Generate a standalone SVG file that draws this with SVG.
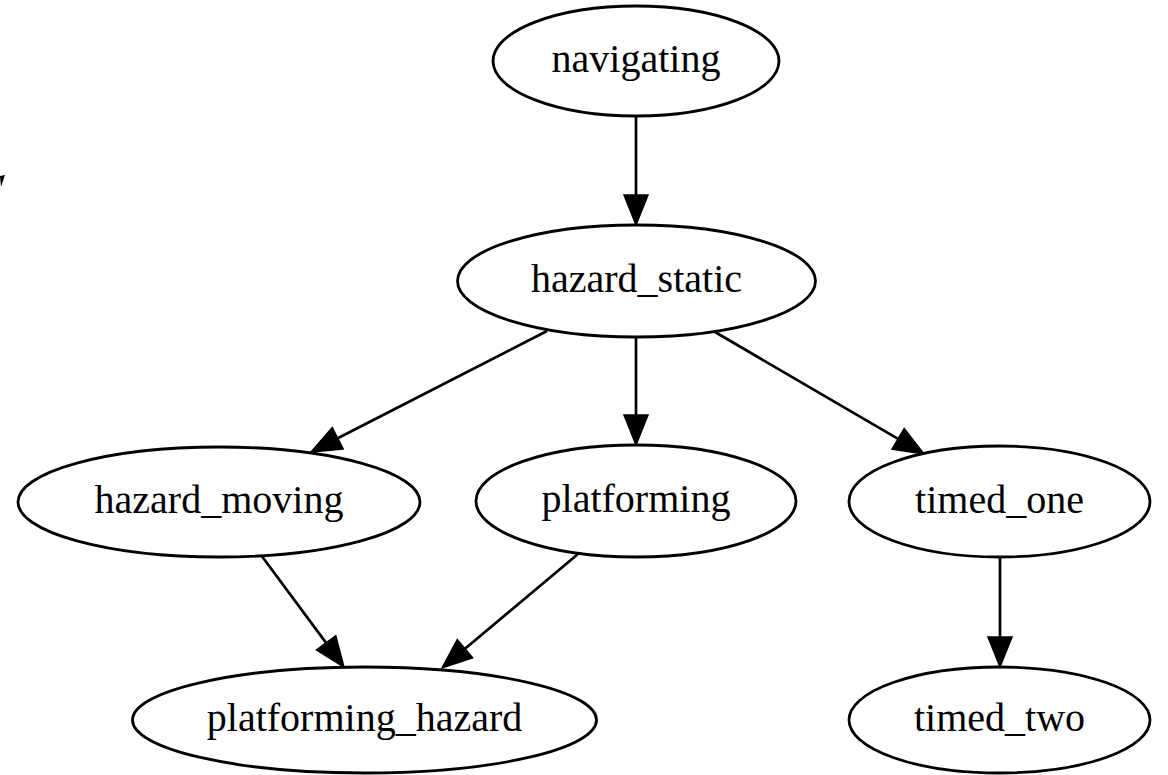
<svg xmlns="http://www.w3.org/2000/svg" width="1168" height="775" viewBox="0 0 1168 775">
<style>
.node ellipse{fill:#fff;stroke:#000;stroke-width:2.8}
.node text{font-family:"Liberation Serif","Times New Roman",serif;font-size:40px;fill:#000;text-anchor:middle}
.edge{fill:none;stroke:#000;stroke-width:2.7}
</style>
<defs>
<marker id="arr" markerUnits="userSpaceOnUse" viewBox="0 0 30 24" refX="0" refY="12" markerWidth="30" markerHeight="24" orient="auto" overflow="visible">
<path d="M0,0 L30,12 L0,24 Z" fill="#000" stroke="#000" stroke-width="1.5" stroke-linejoin="miter"/>
</marker>
</defs>
<rect width="1168" height="775" fill="#fff"/>
<polygon points="0,176 5,175 1,187" fill="#000"/>
<g id="connectors">
<line class="edge" x1="636" y1="117" x2="636" y2="195" marker-end="url(#arr)"/>
<line class="edge" x1="547" y1="331" x2="337.7" y2="438.3" marker-end="url(#arr)"/>
<line class="edge" x1="636" y1="337" x2="636" y2="415" marker-end="url(#arr)"/>
<line class="edge" x1="715" y1="332" x2="898.1" y2="438.9" marker-end="url(#arr)"/>
<line class="edge" x1="261" y1="555" x2="326.1" y2="642.9" marker-end="url(#arr)"/>
<line class="edge" x1="578" y1="554" x2="465" y2="648.7" marker-end="url(#arr)"/>
<line class="edge" x1="1000" y1="557" x2="1000" y2="637" marker-end="url(#arr)"/>
</g>
<g id="navigating" class="node"><ellipse cx="636" cy="61" rx="143" ry="55"/><text x="636" y="72">navigating</text></g>
<g id="hazard_static" class="node"><ellipse cx="636.5" cy="281" rx="179" ry="56"/><text x="636.5" y="292">hazard_static</text></g>
<g id="hazard_moving" class="node"><ellipse cx="219" cy="502" rx="201" ry="55"/><text x="219" y="513">hazard_moving</text></g>
<g id="platforming" class="node"><ellipse cx="636" cy="501" rx="160" ry="56"/><text x="636" y="512">platforming</text></g>
<g id="timed_one" class="node"><ellipse cx="999.5" cy="501.5" rx="150.5" ry="55.5"/><text x="999.5" y="512.5">timed_one</text></g>
<g id="platforming_hazard" class="node"><ellipse cx="364.5" cy="720" rx="232" ry="53"/><text x="364.5" y="731">platforming_hazard</text></g>
<g id="timed_two" class="node"><ellipse cx="999.5" cy="720" rx="150.5" ry="53"/><text x="999.5" y="731">timed_two</text></g>
</svg>
